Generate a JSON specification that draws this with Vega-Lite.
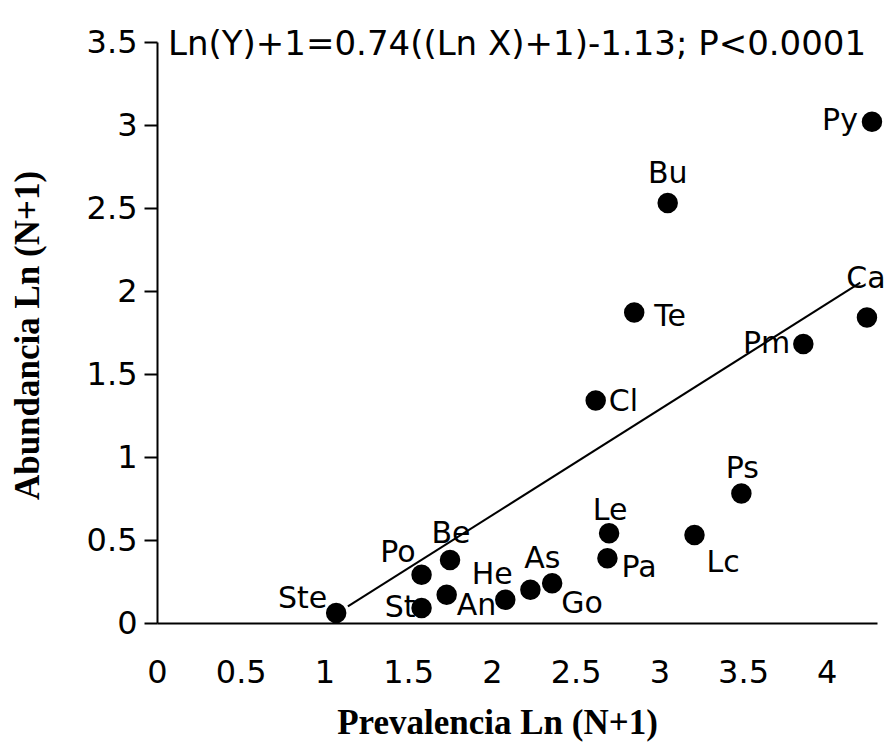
{
  "$schema": "https://vega.github.io/schema/vega-lite/v6.json",
  "autosize": {"type": "none"},
  "padding": {"left": 157, "top": 42, "right": 15, "bottom": 127},
  "width": 720,
  "height": 581,
  "background": "white",
  "config": {"view": {"stroke": null}},
  "datasets": {
    "pts": [
      {"label": "Py", "x": 4.27, "y": 3.02},
      {"label": "Bu", "x": 3.05, "y": 2.53},
      {"label": "Te", "x": 2.85, "y": 1.87},
      {"label": "Cl", "x": 2.62, "y": 1.34},
      {"label": "Pm", "x": 3.86, "y": 1.68},
      {"label": "Ca", "x": 4.24, "y": 1.84},
      {"label": "Ps", "x": 3.49, "y": 0.78},
      {"label": "Lc", "x": 3.21, "y": 0.53},
      {"label": "Le", "x": 2.70, "y": 0.54},
      {"label": "Pa", "x": 2.69, "y": 0.39},
      {"label": "As", "x": 2.23, "y": 0.20},
      {"label": "Go", "x": 2.36, "y": 0.24},
      {"label": "He", "x": 2.08, "y": 0.14},
      {"label": "An", "x": 1.73, "y": 0.17},
      {"label": "St", "x": 1.58, "y": 0.09},
      {"label": "Po", "x": 1.58, "y": 0.29},
      {"label": "Be", "x": 1.75, "y": 0.38},
      {"label": "Ste", "x": 1.07, "y": 0.06}
    ],
    "fit": [
      {"x": 1.14, "y": 0.10},
      {"x": 4.20, "y": 2.05}
    ],
    "eq": [
      {"x": 0.066, "y": 3.5, "label": "Ln(Y)+1=0.74((Ln X)+1)-1.13; P<0.0001"}
    ]
  },
  "data": {"name": "pts"},
  "encoding": {
    "x": {
      "field": "x", "type": "quantitative",
      "scale": {"domain": [0, 4.3], "nice": false, "zero": false},
      "axis": {
        "title": "Prevalencia Ln (N+1)",
        "values": [0, 0.5, 1, 1.5, 2, 2.5, 3, 3.5, 4],
        "format": "~g",
        "ticks": false, "grid": false,
        "domainColor": "black", "domainWidth": 2,
        "labelFont": "DejaVu Sans", "labelFontSize": 32, "labelColor": "black",
        "labelBaseline": "alphabetic", "labelPadding": 59,
        "labelFlush": false, "labelOverlap": false,
        "titleFont": "Liberation Serif", "titleFontWeight": "bold", "titleFontSize": 35, "titleColor": "black",
        "titleX": 340, "titleY": 110, "titleBaseline": "alphabetic", "titleAlign": "center"
      }
    },
    "y": {
      "field": "y", "type": "quantitative",
      "scale": {"domain": [0, 3.5], "nice": false, "zero": false},
      "axis": {
        "title": "Abundancia Ln (N+1)",
        "values": [0, 0.5, 1, 1.5, 2, 2.5, 3, 3.5],
        "format": "~g",
        "ticks": true, "tickSize": 13, "tickWidth": 2, "tickColor": "black",
        "grid": false,
        "domainColor": "black", "domainWidth": 2,
        "labelFont": "DejaVu Sans", "labelFontSize": 32, "labelColor": "black",
        "labelPadding": 7, "labelFlush": false, "labelOverlap": false,
        "titleFont": "Liberation Serif", "titleFontWeight": "bold", "titleFontSize": 35, "titleColor": "black",
        "titleX": -130, "titleY": 293, "titleAngle": -90, "titleAlign": "center", "titleBaseline": "middle"
      }
    },
    "text": {"field": "label", "type": "nominal"}
  },
  "layer": [
    {
      "data": {"name": "fit"},
      "mark": {"type": "line", "color": "black", "strokeWidth": 2},
      "encoding": {}
    },
    {
      "mark": {"type": "circle", "size": 420, "color": "black", "opacity": 1}
    },
    {"transform": [{"filter": "datum.label === 'Py'"}], "mark": {"type": "text", "font": "DejaVu Sans", "fontSize": 30, "color": "black", "align": "right", "baseline": "alphabetic", "dx": -14, "dy": 8}},
    {"transform": [{"filter": "datum.label === 'Bu'"}], "mark": {"type": "text", "font": "DejaVu Sans", "fontSize": 30, "color": "black", "align": "center", "baseline": "alphabetic", "dx": 0, "dy": -20}},
    {"transform": [{"filter": "datum.label === 'Te'"}], "mark": {"type": "text", "font": "DejaVu Sans", "fontSize": 30, "color": "black", "align": "left", "baseline": "alphabetic", "dx": 20, "dy": 13}},
    {"transform": [{"filter": "datum.label === 'Cl'"}], "mark": {"type": "text", "font": "DejaVu Sans", "fontSize": 30, "color": "black", "align": "left", "baseline": "alphabetic", "dx": 13, "dy": 10}},
    {"transform": [{"filter": "datum.label === 'Pm'"}], "mark": {"type": "text", "font": "DejaVu Sans", "fontSize": 30, "color": "black", "align": "right", "baseline": "alphabetic", "dx": -13, "dy": 9}},
    {"transform": [{"filter": "datum.label === 'Ca'"}], "mark": {"type": "text", "font": "DejaVu Sans", "fontSize": 30, "color": "black", "align": "center", "baseline": "alphabetic", "dx": -1, "dy": -30}},
    {"transform": [{"filter": "datum.label === 'Ps'"}], "mark": {"type": "text", "font": "DejaVu Sans", "fontSize": 30, "color": "black", "align": "center", "baseline": "alphabetic", "dx": 1, "dy": -16}},
    {"transform": [{"filter": "datum.label === 'Lc'"}], "mark": {"type": "text", "font": "DejaVu Sans", "fontSize": 30, "color": "black", "align": "left", "baseline": "alphabetic", "dx": 12, "dy": 37}},
    {"transform": [{"filter": "datum.label === 'Le'"}], "mark": {"type": "text", "font": "DejaVu Sans", "fontSize": 30, "color": "black", "align": "center", "baseline": "alphabetic", "dx": 1, "dy": -13}},
    {"transform": [{"filter": "datum.label === 'Pa'"}], "mark": {"type": "text", "font": "DejaVu Sans", "fontSize": 30, "color": "black", "align": "left", "baseline": "alphabetic", "dx": 14, "dy": 19}},
    {"transform": [{"filter": "datum.label === 'As'"}], "mark": {"type": "text", "font": "DejaVu Sans", "fontSize": 30, "color": "black", "align": "center", "baseline": "alphabetic", "dx": 12, "dy": -22}},
    {"transform": [{"filter": "datum.label === 'Go'"}], "mark": {"type": "text", "font": "DejaVu Sans", "fontSize": 30, "color": "black", "align": "left", "baseline": "alphabetic", "dx": 9, "dy": 30}},
    {"transform": [{"filter": "datum.label === 'He'"}], "mark": {"type": "text", "font": "DejaVu Sans", "fontSize": 30, "color": "black", "align": "center", "baseline": "alphabetic", "dx": -13, "dy": -16}},
    {"transform": [{"filter": "datum.label === 'An'"}], "mark": {"type": "text", "font": "DejaVu Sans", "fontSize": 30, "color": "black", "align": "left", "baseline": "alphabetic", "dx": 10, "dy": 20}},
    {"transform": [{"filter": "datum.label === 'St'"}], "mark": {"type": "text", "font": "DejaVu Sans", "fontSize": 30, "color": "black", "align": "right", "baseline": "alphabetic", "dx": -6, "dy": 9}},
    {"transform": [{"filter": "datum.label === 'Po'"}], "mark": {"type": "text", "font": "DejaVu Sans", "fontSize": 30, "color": "black", "align": "right", "baseline": "alphabetic", "dx": -6, "dy": -13}},
    {"transform": [{"filter": "datum.label === 'Be'"}], "mark": {"type": "text", "font": "DejaVu Sans", "fontSize": 30, "color": "black", "align": "center", "baseline": "alphabetic", "dx": 1, "dy": -17}},
    {"transform": [{"filter": "datum.label === 'Ste'"}], "mark": {"type": "text", "font": "DejaVu Sans", "fontSize": 30, "color": "black", "align": "right", "baseline": "alphabetic", "dx": -9, "dy": -5}},
    {
      "data": {"name": "eq"},
      "mark": {"type": "text", "font": "DejaVu Sans", "fontSize": 34, "color": "black", "align": "left", "baseline": "alphabetic", "dy": 13}
    }
  ]
}
